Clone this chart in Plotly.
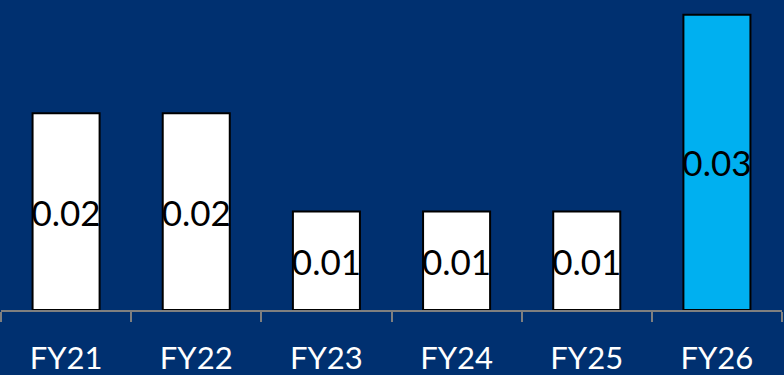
import plotly.graph_objects as go

# Fiscal years and their values
years = ["FY21", "FY22", "FY23", "FY24", "FY25", "FY26"]
values = [0.02, 0.02, 0.01, 0.01, 0.01, 0.03]
value_labels = ["0.02", "0.02", "0.01", "0.01", "0.01", "0.03"]

NAVY = "#003070"
WHITE = "#FFFFFF"
HIGHLIGHT = "#00B0F0"
bar_colors = [WHITE] * (len(years) - 1) + [HIGHLIGHT]

fig = go.Figure(
    go.Bar(
        x=years,
        y=values,
        text=value_labels,
        textposition="inside",
        insidetextanchor="middle",
        constraintext="none",
        textangle=0,
        textfont=dict(family="Lato", size=35, color="black"),
        marker=dict(color=bar_colors, line=dict(color="black", width=2)),
        width=0.515,
        hoverinfo="skip",
    )
)

fig.update_layout(
    width=784,
    height=375,
    margin=dict(l=1, r=2, t=0, b=65),
    paper_bgcolor=NAVY,
    plot_bgcolor=NAVY,
    showlegend=False,
    font=dict(family="Lato"),
)

fig.update_xaxes(
    showline=True,
    linecolor="#7F7F7F",
    linewidth=2,
    ticks="outside",
    tickson="boundaries",
    ticklen=10,
    tickwidth=2,
    tickcolor="#7F7F7F",
    ticklabelstandoff=20,
    tickfont=dict(family="Lato", size=31, color=WHITE),
    showgrid=False,
)

fig.update_yaxes(
    range=[0, 0.0315],
    visible=False,
    showgrid=False,
    zeroline=False,
)

fig.write_html("out.html")
